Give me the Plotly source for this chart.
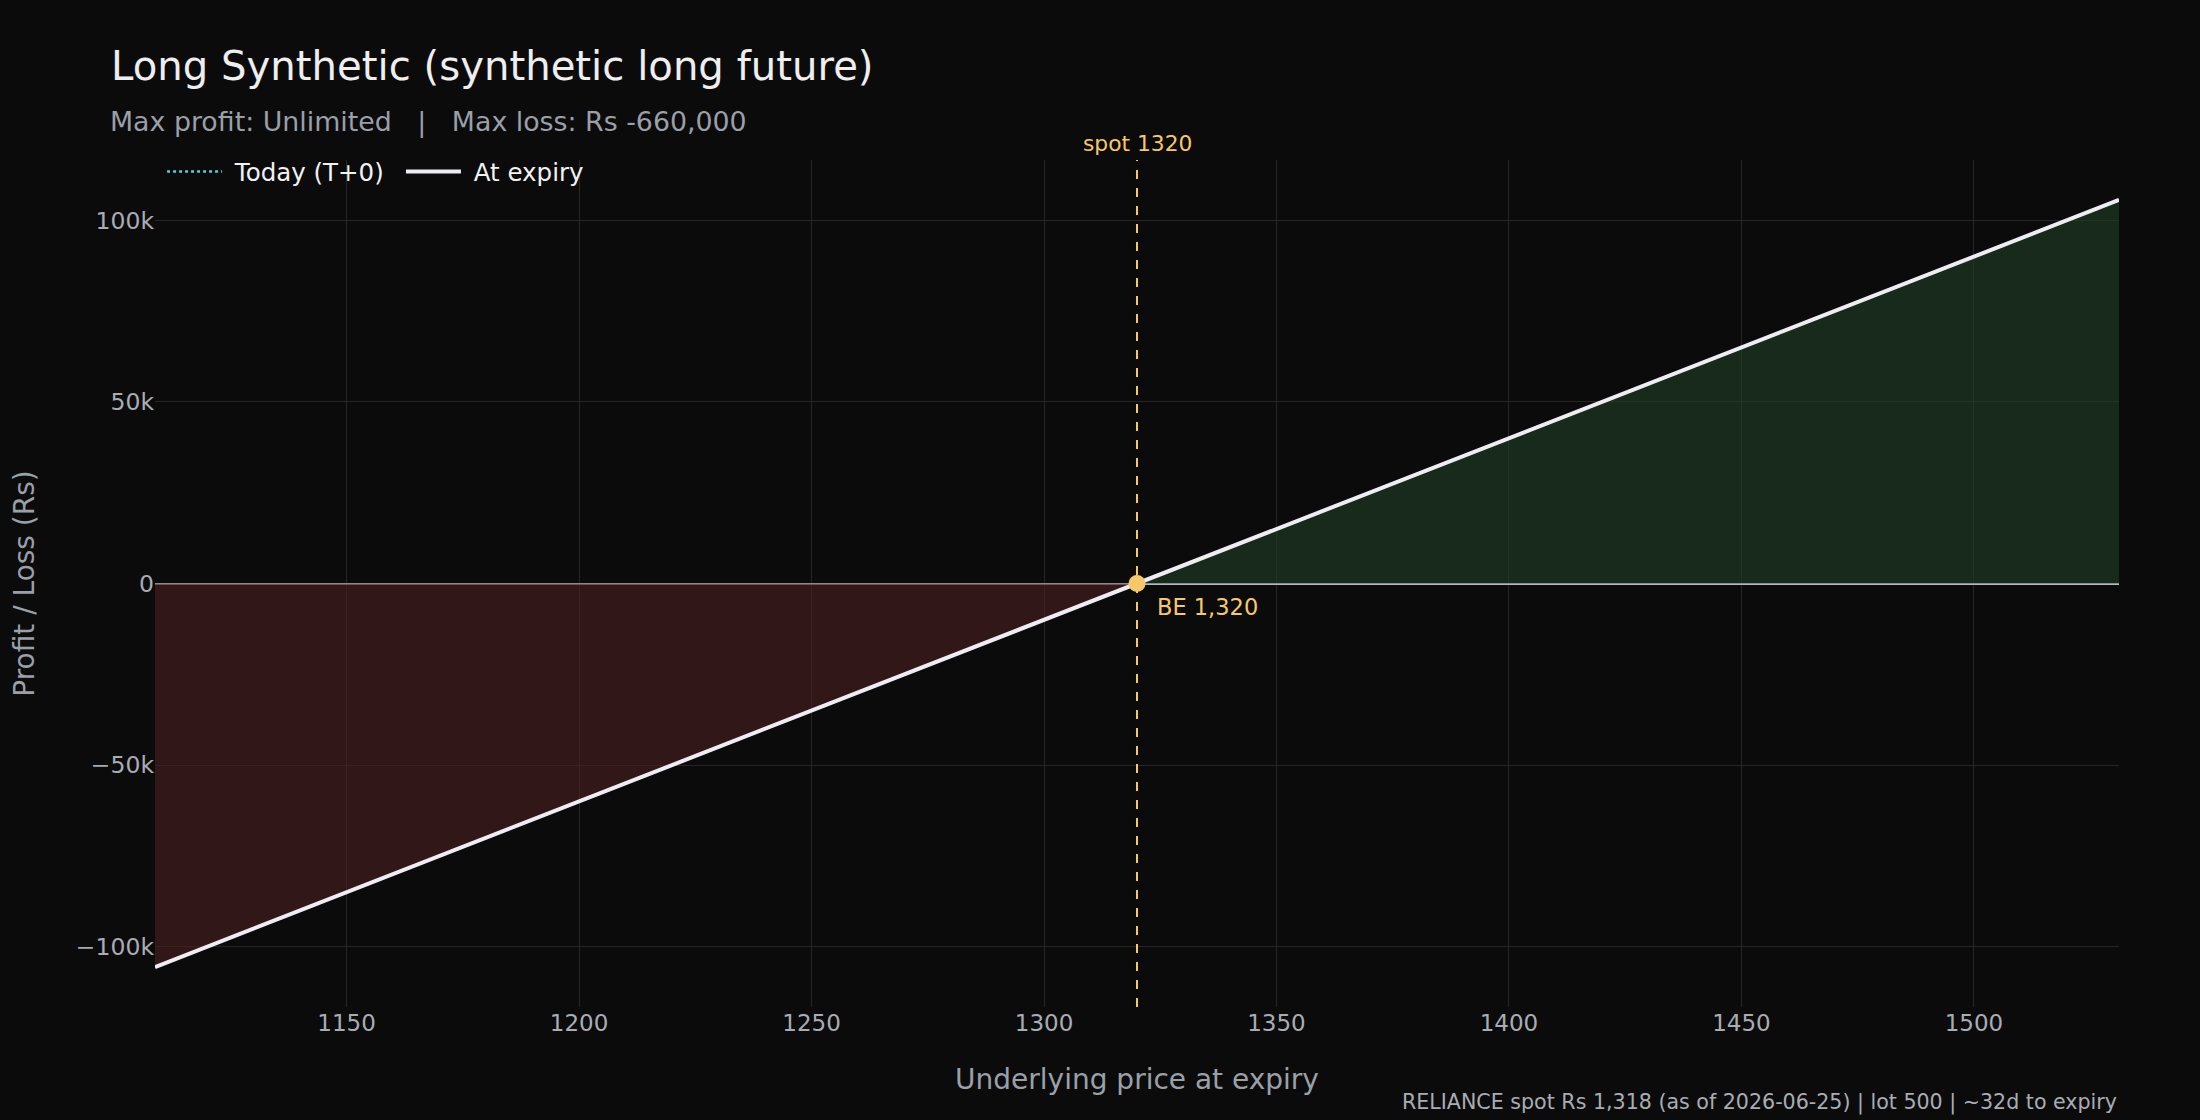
import plotly.graph_objects as go

# ---- data ----
price_pts = [1108.8, 1320.0, 1531.2]
expiry_pnl = [-105600, 0, 105600]
today_pnl = [-105600, 0, 105600]
loss_x = [1108.8, 1320.0]
loss_y = [-105600, 0]
profit_x = [1320.0, 1531.2]
profit_y = [0, 105600]
spot = 1320
breakeven = 1320
x_ticks = [1150, 1200, 1250, 1300, 1350, 1400, 1450, 1500]
y_ticks = [-100000, -50000, 0, 50000, 100000]
y_tick_text = ["\u2212100k", "\u221250k", "0", "50k", "100k"]

FONT = "DejaVu Sans, Verdana, sans-serif"
BG = "#0b0b0b"
GOLD = "#f7c86a"
GREY = "#a9adb3"

fig = go.Figure()
fig.add_trace(go.Scatter(x=loss_x, y=loss_y, fill="tozeroy", mode="none",
                         fillcolor="rgba(70,30,32,0.65)", showlegend=False, hoverinfo="skip"))
fig.add_trace(go.Scatter(x=profit_x, y=profit_y, fill="tozeroy", mode="none",
                         fillcolor="rgba(30,60,38,0.65)", showlegend=False, hoverinfo="skip"))
fig.add_trace(go.Scatter(x=price_pts, y=today_pnl, mode="lines", name="\u00a0Today (T+0)\u2002",
                         line=dict(color="#5ccbdb", width=2.5, dash="dot")))
fig.add_trace(go.Scatter(x=price_pts, y=expiry_pnl, mode="lines", name="\u00a0At expiry",
                         line=dict(color="#efedf3", width=4)))
fig.add_trace(go.Scatter(x=[breakeven], y=[0], mode="markers", showlegend=False,
                         marker=dict(color=GOLD, size=17)))

fig.add_shape(type="line", x0=spot, x1=spot, y0=0, y1=1, yref="paper",
              line=dict(color=GOLD, width=2, dash="dash"))
fig.add_annotation(x=spot, y=1, yref="paper", text="spot 1320", showarrow=False,
                   yanchor="bottom", yshift=2, font=dict(color=GOLD, size=21.8, family=FONT))
fig.add_annotation(x=breakeven, y=0, text="BE 1,320", showarrow=False,
                   xanchor="left", yanchor="top", xshift=18, yshift=-8,
                   font=dict(color=GOLD, size=22.5, family=FONT))
fig.add_annotation(x=1, y=0, xref="paper", yref="paper", yshift=-110,
                   text="RELIANCE spot Rs 1,318 (as of 2026-06-25) | lot 500 | ~32d to expiry",
                   showarrow=False, xanchor="right", yanchor="bottom",
                   font=dict(color=GREY, size=20.6, family=FONT))
fig.add_annotation(x=-0.024, xref="paper", y=1.0449, yref="paper", showarrow=False,
                   xanchor="left", yanchor="middle",
                   text="Max profit: Unlimited   |   Max loss: Rs -660,000",
                   font=dict(color="#9a9fa8", size=26.8, family=FONT))

fig.update_layout(
    width=2200, height=1120,
    paper_bgcolor=BG, plot_bgcolor=BG,
    font=dict(family=FONT, color=GREY, size=23),
    margin=dict(l=155, r=81, t=160, b=113),
    title=dict(
        text="Long Synthetic (synthetic long future)",
        x=111 / 2200, xref="container", xanchor="left",
        y=1 - 66 / 1120, yref="container", yanchor="middle",
        font=dict(size=40.2, color="#eeeeee", family=FONT)),
    legend=dict(orientation="h", x=0.0036, y=1.013, xanchor="left", yanchor="top",
                itemwidth=55, bgcolor="rgba(0,0,0,0)", font=dict(color="#f2f2f2", size=24.5)),
    showlegend=True,
)
fig.update_xaxes(range=[1108.8, 1531.2], tickvals=x_ticks, showgrid=True,
                 gridcolor="#262626", gridwidth=1, zeroline=False,
                 title=dict(text="Underlying price at expiry", font=dict(size=28, color="#9aa0a8"), standoff=34),
                 ticks="", tickfont=dict(size=23, color=GREY))
fig.update_yaxes(range=[-116600, 116600], tickvals=y_ticks, ticktext=y_tick_text,
                 showgrid=True, gridcolor="#262626", gridwidth=1,
                 zeroline=True, zerolinecolor="#b5b8bf", zerolinewidth=1.5,
                 title=dict(text="Profit / Loss (Rs)", font=dict(size=28, color="#9aa0a8"), standoff=33),
                 ticks="", tickfont=dict(size=23.5, color=GREY))

fig.write_html("out.html")
